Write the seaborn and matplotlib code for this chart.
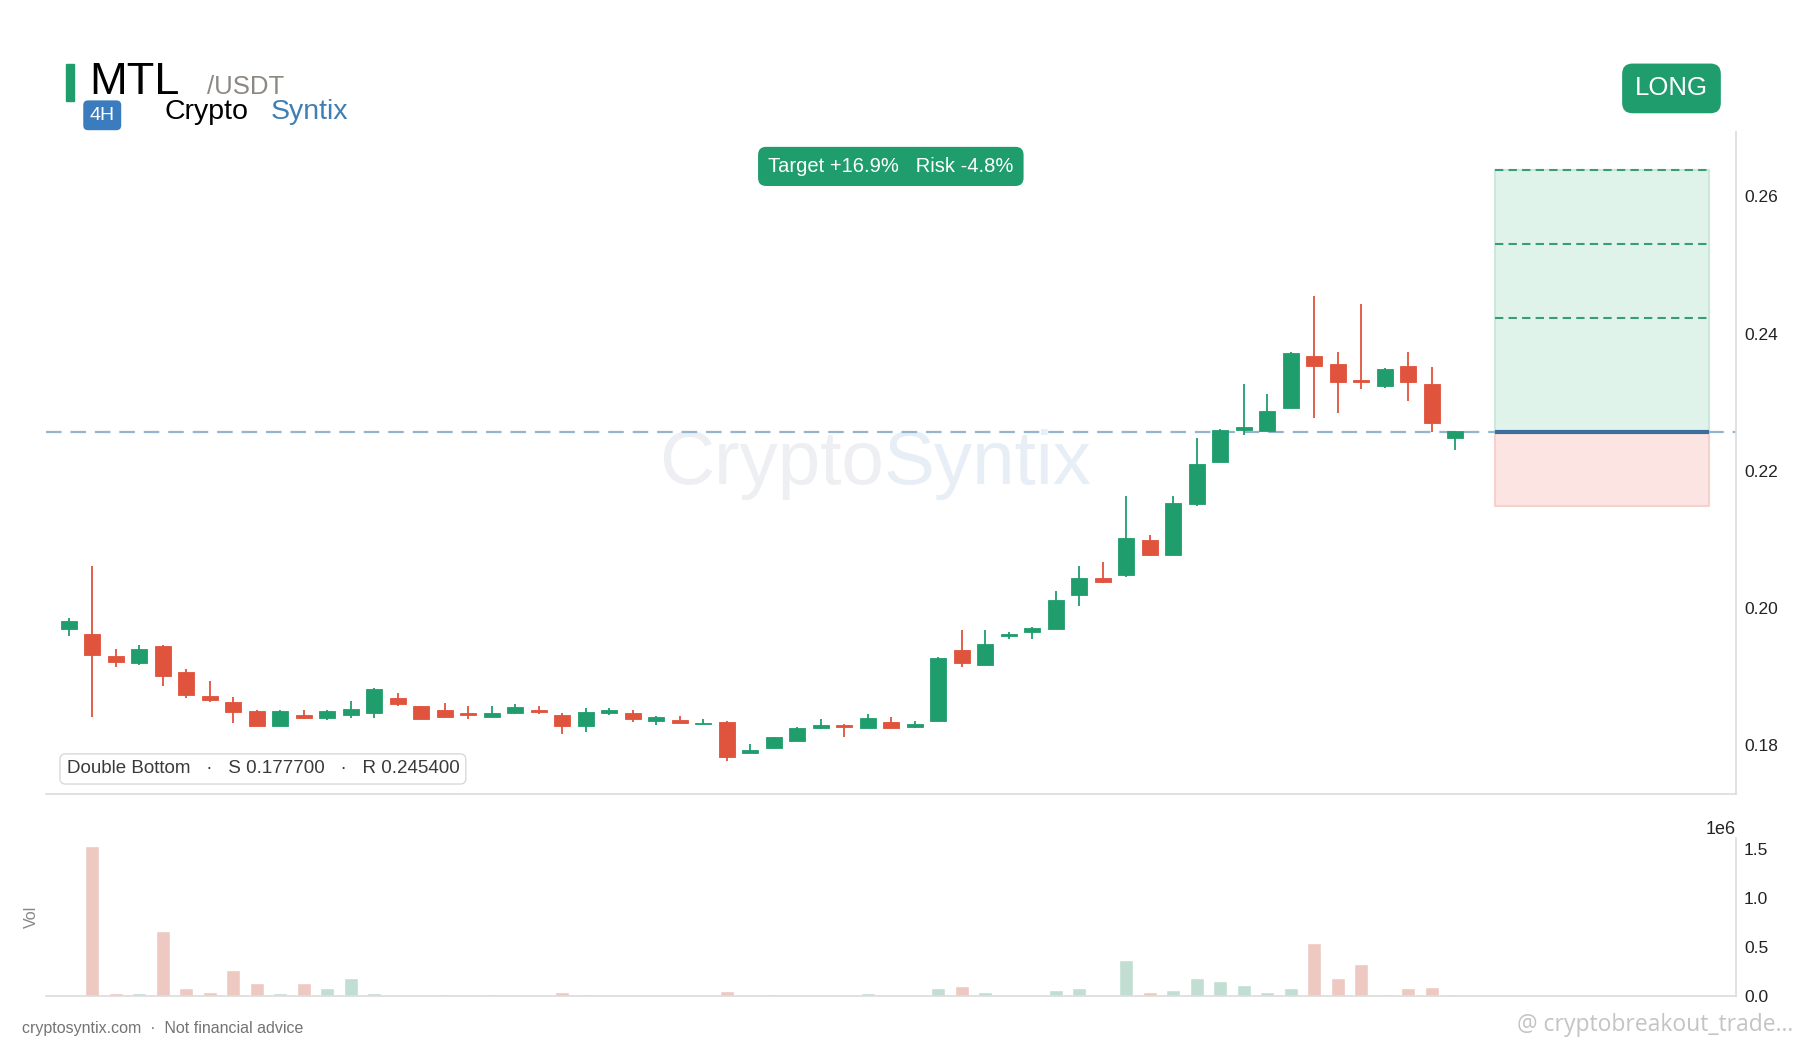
import numpy as np
import pandas as pd
import matplotlib
matplotlib.use('Agg')
import matplotlib.pyplot as plt
from matplotlib.patches import Rectangle
import seaborn as sns

# MTL/USDT 4H candles
opens = [0.1969, 0.1962, 0.1929, 0.1920, 0.1944, 0.1906, 0.1871, 0.1862, 0.1849, 0.1827,
         0.1844, 0.1839, 0.1843, 0.1846, 0.1868, 0.1856, 0.1851, 0.1846, 0.1841, 0.1846,
         0.1851, 0.1844, 0.1828, 0.1846, 0.1846, 0.1834, 0.1836, 0.1830, 0.1833, 0.1788,
         0.1796, 0.1806, 0.1825, 0.1829, 0.1824, 0.1833, 0.1826, 0.1835, 0.1938, 0.1917,
         0.1958, 0.1965, 0.1969, 0.2018, 0.2043, 0.2047, 0.2099, 0.2077, 0.2151, 0.2213,
         0.2259, 0.2258, 0.2291, 0.2367, 0.2356, 0.2332, 0.2324, 0.2353, 0.2327, 0.2248]
highs = [0.1985, 0.2061, 0.1940, 0.1945, 0.1945, 0.1910, 0.1893, 0.1869, 0.1851, 0.1850,
         0.1851, 0.1850, 0.1864, 0.1883, 0.1875, 0.1857, 0.1861, 0.1856, 0.1857, 0.1860,
         0.1856, 0.1846, 0.1853, 0.1854, 0.1851, 0.1842, 0.1842, 0.1837, 0.1835, 0.1801,
         0.1812, 0.1826, 0.1837, 0.1830, 0.1845, 0.1840, 0.1834, 0.1928, 0.1968, 0.1968,
         0.1964, 0.1972, 0.2025, 0.2061, 0.2066, 0.2163, 0.2106, 0.2163, 0.2247, 0.2260,
         0.2326, 0.2312, 0.2373, 0.2455, 0.2373, 0.2443, 0.2349, 0.2373, 0.2351, 0.2258]
lows = [0.1959, 0.1840, 0.1914, 0.1917, 0.1886, 0.1868, 0.1862, 0.1832, 0.1827, 0.1827,
        0.1838, 0.1836, 0.1839, 0.1839, 0.1856, 0.1838, 0.1840, 0.1838, 0.1840, 0.1845,
        0.1845, 0.1815, 0.1819, 0.1844, 0.1833, 0.1829, 0.1832, 0.1830, 0.1777, 0.1788,
        0.1796, 0.1806, 0.1823, 0.1812, 0.1824, 0.1824, 0.1824, 0.1835, 0.1913, 0.1917,
        0.1955, 0.1954, 0.1969, 0.2002, 0.2036, 0.2045, 0.2076, 0.2077, 0.2148, 0.2213,
        0.2252, 0.2258, 0.2291, 0.2276, 0.2284, 0.2319, 0.2320, 0.2301, 0.2257, 0.2230]
closes = [0.1980, 0.1931, 0.1921, 0.1940, 0.1901, 0.1872, 0.1865, 0.1848, 0.1827, 0.1849,
          0.1839, 0.1849, 0.1852, 0.1882, 0.1859, 0.1838, 0.1841, 0.1843, 0.1847, 0.1855,
          0.1848, 0.1828, 0.1848, 0.1850, 0.1838, 0.1840, 0.1832, 0.1832, 0.1782, 0.1793,
          0.1811, 0.1824, 0.1829, 0.1826, 0.1839, 0.1824, 0.1831, 0.1926, 0.1919, 0.1947,
          0.1961, 0.1971, 0.2011, 0.2043, 0.2037, 0.2101, 0.2077, 0.2153, 0.2210, 0.2259,
          0.2264, 0.2287, 0.2372, 0.2352, 0.2329, 0.2329, 0.2348, 0.2329, 0.2269, 0.2258]
volumes = [0.007, 1.54, 0.027, 0.027, 0.664, 0.079, 0.041, 0.264, 0.134, 0.027,
           0.134, 0.079, 0.182, 0.027, 0.007, 0.007, 0.020, 0.007, 0.017, 0.007,
           0.003, 0.041, 0.017, 0.002, 0.002, 0.002, 0.005, 0.002, 0.048, 0.007,
           0.017, 0.005, 0.007, 0.007, 0.027, 0.005, 0.004, 0.086, 0.099, 0.038,
           0.002, 0.007, 0.058, 0.079, 0.007, 0.366, 0.038, 0.058, 0.182, 0.151,
           0.110, 0.038, 0.079, 0.541, 0.182, 0.325, 0.017, 0.079, 0.089, 0.017]
volumes = [v * 1e6 for v in volumes]

# trade setup
entry = 0.2257
stop = 0.2149
targets = [0.2423, 0.2531, 0.2639]
support = 0.1777
resistance = 0.2454
zone_x = [60.7, 69.8]

GREEN = '#1f9d6d'
RED = '#e0533c'

sns.set_theme(style='white')
plt.rcParams['font.family'] = ['Liberation Sans', 'DejaVu Sans']

df = pd.DataFrame({'open': opens, 'high': highs, 'low': lows, 'close': closes, 'vol': volumes})
df['i'] = np.arange(len(df))
df['dir'] = np.where(df['close'] >= df['open'], 'up', 'down')

fig = plt.figure(figsize=(18, 10.5), dpi=100, facecolor='white')
ax = fig.add_axes([0.0255, 0.2437, 0.9388, 0.6306])
axv = fig.add_axes([0.0255, 0.0514, 0.9388, 0.1508], sharex=ax)

# candles
cols = np.where(df['dir'] == 'up', GREEN, RED)
ax.vlines(df['i'], df['low'], df['high'], color=cols, lw=1.3, zorder=3)
bottoms = np.minimum(df['open'], df['close'])
heights = np.abs(df['close'] - df['open'])
ax.bar(df['i'], heights, bottom=bottoms, width=0.68, color=cols, edgecolor=cols, lw=0.6, zorder=4)

# watermark
ax.text(0.496, 0.468, 'Crypto', transform=ax.transAxes, ha='right', va='baseline',
        fontsize=55, color='#eeeff2', zorder=0)
ax.text(0.496, 0.468, 'Syntix', transform=ax.transAxes, ha='left', va='baseline',
        fontsize=55, color='#e7eef6', zorder=0)

# entry / target / stop zones
ax.axhline(entry, color='#94b4d0', lw=1.6, ls=(0, (7, 4)), zorder=2)
ax.fill_between(zone_x, entry, targets[-1], color='#e0f3ea', edgecolor='#cbe8da', lw=1.5, zorder=1)
ax.fill_between(zone_x, stop, entry, color='#fbe4e1', edgecolor='#f6d0ca', lw=1.5, zorder=1)
for t in targets:
    ax.hlines(t, zone_x[0], zone_x[1], color='#3a9c77', lw=1.5, ls=(0, (4, 2.5)), zorder=2)
ax.hlines(entry, zone_x[0], zone_x[1], color='#3b6d9e', lw=3, zorder=3)

ax.text(0.5, 0.948, 'Target +16.9%   Risk -4.8%', transform=ax.transAxes, ha='center', va='center',
        fontsize=14.5, color='white', zorder=6,
        bbox=dict(boxstyle='round,pad=0.5,rounding_size=0.4', fc=GREEN, ec='none'))
ax.text(0.0122, 0.038, f'Double Bottom   \u00b7   S {support:.6f}   \u00b7   R {resistance:.6f}',
        transform=ax.transAxes, ha='left', va='center', fontsize=13.5, color='#3a3a3a', zorder=6,
        bbox=dict(boxstyle='round,pad=0.35,rounding_size=0.3', fc='white', ec='#d9d9d9', lw=1))

ax.set_xlim(-0.98, 70.93)
ax.set_ylim(0.1728, 0.2694)
ax.yaxis.tick_right()
ax.set_yticks([0.18, 0.20, 0.22, 0.24, 0.26])
ax.set_yticklabels(['0.18', '0.20', '0.22', '0.24', '0.26'])
ax.tick_params(axis='y', length=0, pad=6, labelsize=12.5, labelcolor='#222222')
ax.tick_params(axis='x', bottom=False, labelbottom=False)
for s in ['top', 'left']:
    ax.spines[s].set_visible(False)
for s in ['right', 'bottom']:
    ax.spines[s].set_color('#dcdcdc')
    ax.spines[s].set_linewidth(1.2)

# volume
sns.barplot(data=df, x='i', y='vol', hue='dir', palette={'up': '#bde3d3', 'down': '#f4c4bb'},
            native_scale=True, dodge=False, width=0.6, errorbar=None, legend=False, ax=axv)
axv.set_xlim(-0.98, 70.93)
axv.set_ylim(0, 1.62e6)
axv.set_xlabel('')
axv.yaxis.tick_right()
axv.set_yticks([0, 0.5e6, 1.0e6, 1.5e6])
axv.yaxis.set_offset_position('right')
axv.yaxis.get_offset_text().set_fontsize(13)
axv.tick_params(axis='y', length=0, pad=6, labelsize=12.5, labelcolor='#222222')
axv.tick_params(axis='x', bottom=False, labelbottom=False)
axv.set_ylabel('Vol', color='#888888', fontsize=11.5)
axv.yaxis.set_label_position('left')
axv.yaxis.set_label_coords(-0.004, 0.5)
for s in ['top', 'left']:
    axv.spines[s].set_visible(False)
for s in ['right', 'bottom']:
    axv.spines[s].set_color('#dcdcdc')
    axv.spines[s].set_linewidth(1.2)

# header
fig.patches.append(Rectangle((0.0364, 0.9038), 0.0045, 0.035, transform=fig.transFigure,
                             color=GREEN, zorder=5))
fig.text(0.0497, 0.9104, 'MTL', fontsize=32.5, color='black', va='baseline', ha='left')
fig.text(0.1148, 0.9104, '/USDT', fontsize=18.5, color='#8e8882', va='baseline', ha='left')
fig.text(0.0568, 0.8902, '4H', fontsize=14, color='white', va='center', ha='center',
         bbox=dict(boxstyle='round,pad=0.33,rounding_size=0.25', fc='#3b7cbf', ec='none'))
fig.text(0.0912, 0.8863, 'Crypto', fontsize=20.5, color='black', va='baseline', ha='left')
fig.text(0.1505, 0.8863, 'Syntix', fontsize=20.5, color='#3f7fb3', va='baseline', ha='left')
fig.text(0.9286, 0.9158, 'LONG', fontsize=18.5, color='white', va='center', ha='center',
         bbox=dict(boxstyle='round,pad=0.5,rounding_size=0.4', fc=GREEN, ec='none'))

# footer
fig.text(0.0121, 0.0208, 'cryptosyntix.com  \u00b7  Not financial advice', fontsize=11.5,
         color='#747474', va='center', ha='left')
fig.text(0.996, 0.024, '@ cryptobreakout_trade...', fontsize=16.5, color='#c4c4c4',
         va='center', ha='right', family=['Open Sans', 'DejaVu Sans'])

fig.savefig('out.png', dpi=100, facecolor='white')
